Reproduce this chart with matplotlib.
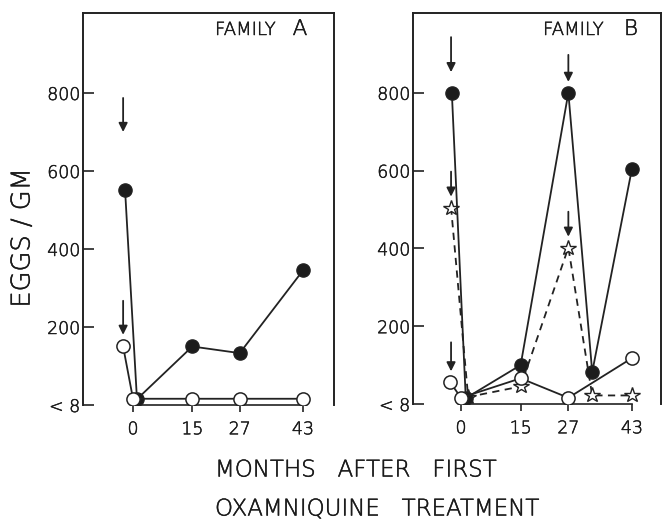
import matplotlib
matplotlib.use("Agg")
import matplotlib.pyplot as plt
import matplotlib.patheffects as pe

plt.rcParams['font.family'] = ['DejaVu Sans']
plt.rcParams['font.weight'] = 'light'

# ---- data (months after first treatment, eggs/gm; "<8" plotted near baseline) ----
yticks = [0, 200, 400, 600, 800]
ytick_labels = ["< 8", "200", "400", "600", "800"]
xticks = [0, 15, 27, 43]
xtick_labels = ["0", "15", "27", "43"]

# Family A
a_filled_x = [-2, 1, 15, 27, 43]
a_filled_y = [550, 15, 150, 133, 345]
a_open_x = [-2.5, 0, 15, 27, 43]
a_open_y = [150, 16, 16, 16, 16]
a_arrows_x = [-2.5, -2.5]
a_arrows_tip = [700, 180]

# Family B
b_filled_x = [-2.3, 1.2, 15, 27, 33, 43]
b_filled_y = [800, 15, 100, 800, 82, 605]
b_open_x = [-2.8, 0, 15, 27, 43]
b_open_y = [57, 16, 66, 16, 118]
b_star_x = [-2.5, 1.8, 15, 27, 33, 43]
b_star_y = [505, 18, 45, 402, 22, 22]
b_arrows_x = [-2.5, -2.5, -2.5, 27, 27]
b_arrows_tip = [853, 533, 84, 828, 430]
b_arrows_len = [35, 25, 29, 27, 25]

W, H = 662, 523
fig = plt.figure(figsize=(W / 100, H / 100), dpi=100)

INK = '#222222'
TXT = '#1a1a1a'
THICK = [pe.withStroke(linewidth=0.35, foreground=TXT)]

def setup(ax):
    ax.set_ylim(0, 1005)
    for s in ax.spines.values():
        s.set_linewidth(1.4)
        s.set_color(INK)
    ax.spines['bottom'].set_bounds(0, 43)
    ax.spines['bottom'].set_linewidth(1.2)
    ax.set_yticks(yticks)
    ax.set_yticklabels(ytick_labels)
    ax.set_xticks(xticks)
    ax.set_xticklabels(xtick_labels)
    ax.tick_params(axis='y', direction='in', length=8, width=1.2, pad=2,
                   labelsize=12.5, colors=INK, labelcolor=TXT)
    ax.tick_params(axis='x', direction='out', length=5, width=1.2, pad=6,
                   labelsize=12.5, colors=INK, labelcolor=TXT)
    for lab in ax.get_xticklabels() + ax.get_yticklabels():
        lab.set_path_effects(THICK)

def arrow(ax, x, tip, length):
    ax.annotate('', xy=(x, tip), xytext=(0, length), textcoords='offset pixels',
                arrowprops=dict(arrowstyle='-|>', color=INK, lw=1.3,
                                mutation_scale=13, shrinkA=0, shrinkB=0))

def filled(ax, x, y):
    ax.plot(x, y, '-', color=INK, lw=1.3, marker='o', ms=9.5,
            mfc='#1c1c1c', mec=INK, mew=1.0, zorder=3)

def opened(ax, x, y):
    ax.plot(x, y, '-', color=INK, lw=1.3, marker='o', ms=9.5,
            mfc='white', mec=INK, mew=1.1, zorder=4)

# Panel A
axA = fig.add_axes([83 / W, 1 - 405 / H, 251 / W, 392 / H])
axA.set_xlim(-12.65, 50.85)
setup(axA)
filled(axA, a_filled_x, a_filled_y)
opened(axA, a_open_x, a_open_y)
for x, t in zip(a_arrows_x, a_arrows_tip):
    arrow(axA, x, t, 34)

# Panel B
axB = fig.add_axes([413 / W, 1 - 404 / H, 248 / W, 391 / H])
axB.set_xlim(-12.07, 50.3)
setup(axB)
axB.plot(b_star_x, b_star_y, '--', color=INK, lw=1.3, dashes=(4, 3),
         marker='*', ms=11.5, mfc='white', mec=INK, mew=1.0, zorder=3)
filled(axB, b_filled_x, b_filled_y)
opened(axB, b_open_x, b_open_y)
for x, t, L in zip(b_arrows_x, b_arrows_tip, b_arrows_len):
    arrow(axB, x, t, L)

# Panel titles
for (fx, lx, letter) in [(215, 300, 'A'), (543, 631, 'B')]:
    fig.text(fx / W, 1 - 30 / H, 'FAMILY', ha='left', va='center',
             fontsize=13, color=TXT, path_effects=THICK)
    fig.text(lx / W, 1 - 29 / H, letter, ha='center', va='center',
             fontsize=15.5, color=TXT, path_effects=THICK)

# Axis labels
fig.text(22 / W, 1 - 238 / H, 'EGGS / GM', rotation=90, ha='center',
         va='center', fontsize=18.5, color=TXT, path_effects=THICK)
fig.text(215 / W, 1 - 470 / H, 'MONTHS   AFTER   FIRST', ha='left', va='center',
         fontsize=16.5, color=TXT, path_effects=THICK)
fig.text(215 / W, 1 - 509 / H, 'OXAMNIQUINE   TREATMENT', ha='left', va='center',
         fontsize=16.5, color=TXT, path_effects=THICK)

fig.savefig('out.png', dpi=100)
